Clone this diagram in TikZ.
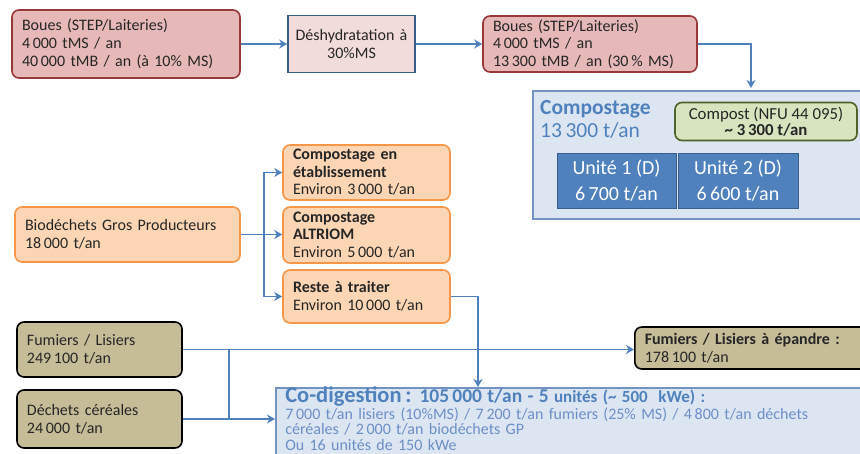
\documentclass[tikz,border=0pt]{standalone}
\usepackage{fontspec}
\setmainfont{Carlito}
\usetikzlibrary{arrows.meta}
\definecolor{TxtClr}{rgb}{0.15,0.15,0.15}
\definecolor{BoueClr}{rgb}{0.902,0.725,0.722}
\definecolor{BoueBrd}{rgb}{0.6,0.22,0.22}
\definecolor{DeshyClr}{rgb}{0.949,0.863,0.859}
\definecolor{BleuClr}{rgb}{0.31,0.506,0.741}
\definecolor{BleuBrd}{rgb}{0.22,0.365,0.541}
\definecolor{CielClr}{rgb}{0.863,0.902,0.949}
\definecolor{CielBrd}{rgb}{0.45,0.58,0.76}
\definecolor{VertClr}{rgb}{0.843,0.894,0.741}
\definecolor{VertBrd}{rgb}{0.31,0.384,0.157}
\definecolor{OrangeClr}{rgb}{0.988,0.835,0.706}
\definecolor{OrangeBrd}{rgb}{0.969,0.588,0.275}
\definecolor{OliveClr}{rgb}{0.769,0.741,0.592}
\definecolor{BleuTxt}{rgb}{0.42,0.56,0.78}

\begin{document}
\begin{tikzpicture}[x=1pt,y=-1pt,
  every node/.style={font=\fontsize{16}{18}\selectfont,text=TxtClr},
  boue/.style={draw=BoueBrd,fill=BoueClr,line width=1.6pt,rounded corners=7pt,align=left,inner xsep=10pt},
  deshy/.style={draw=BleuBrd,fill=DeshyClr,line width=1.6pt,align=center},
  bio/.style={draw=OrangeBrd,fill=OrangeClr,line width=1.6pt,rounded corners=7pt,align=left,inner xsep=10pt},
  fumier/.style={draw=black,fill=OliveClr,line width=1.6pt,rounded corners=7pt,align=left,inner xsep=10pt},
  unite/.style={draw=BleuBrd,fill=BleuClr,line width=0.8pt,align=center,text=white,minimum width=119pt,minimum height=55pt,font=\fontsize{20}{26}\selectfont},
  ciel/.style={draw=CielBrd,fill=CielClr,line width=1.6pt},
  fleche/.style={draw=BleuClr,line width=1.6pt,-{Stealth[length=8pt,width=9pt,inset=2.5pt]}},
  trait/.style={draw=BleuClr,line width=1.6pt}]
\useasboundingbox (0,0) rectangle (860,453);
\clip (0,0) rectangle (860,453);

\node[boue,minimum width=228pt,minimum height=68pt,text width=208pt] (boueA) at (126,44)
  {Boues (STEP/Laiteries)\\4\,000 tMS / an\\40\,000 tMB / an (à 10\% MS)};
\node[deshy,minimum width=127pt,minimum height=57pt,text width=119pt,inner xsep=2pt] (deshy) at (351.5,44)
  {Déshydratation à\\30\%MS};
\node[boue,minimum width=214pt,minimum height=56pt,text width=194pt,inner ysep=0.5pt,font=\fontsize{16}{17.5}\selectfont] (boueB) at (590,44)
  {Boues (STEP/Laiteries)\\4\,000 tMS / an\\13\,300 tMB / an (30\,\% MS)};

\node[ciel,anchor=north west,minimum width=360pt,minimum height=128pt] (compo) at (532,90) {};
\node[anchor=north west,align=left,text=BleuClr,inner sep=0pt,font=\fontsize{21.5}{23}\selectfont] (compoTitre) at (540,100)
  {\textbf{Compostage}\\13\,300 t/an};
\node[draw=VertBrd,fill=VertClr,line width=1.6pt,rounded corners=7pt,align=center,minimum width=182pt,minimum height=38pt,inner sep=0pt,font=\fontsize{16.8}{16.5}\selectfont] (compost) at (766,121.5)
  {Compost (NFU 44 095)\\\textbf{\textasciitilde\ 3\,300 t/an}};
\node[unite] (u1) at (616.5,180.5) {Unité 1 (D)\\6\,700 t/an};
\node[unite,minimum width=120pt] (u2) at (738,180.5) {Unité 2 (D)\\6\,600 t/an};
\coordinate (compoIn) at (751,88);

\node[bio,minimum width=225pt,minimum height=55pt,text width=205pt] (bio) at (127.5,234.5)
  {Biodéchets Gros Producteurs\\18\,000 t/an};
\node[bio,minimum width=167pt,minimum height=55pt,text width=147pt,inner ysep=0.5pt,font=\fontsize{16}{17.5}\selectfont] (etab) at (366.5,172.5)
  {\textbf{Compostage en}\\\textbf{établissement}\\Environ 3\,000 t/an};
\node[bio,minimum width=167pt,minimum height=56pt,text width=147pt,inner ysep=0.5pt,font=\fontsize{16}{17.5}\selectfont] (altriom) at (366.5,235)
  {\textbf{Compostage}\\\textbf{ALTRIOM}\\Environ 5\,000 t/an};
\node[bio,minimum width=167pt,minimum height=53pt,text width=147pt] (reste) at (366.5,296.5)
  {\textbf{Reste à traiter}\\Environ 10\,000 t/an};

\node[fumier,minimum width=165pt,minimum height=55pt,text width=145pt] (fum) at (99.5,349.5)
  {Fumiers / Lisiers\\249\,100 t/an};
\node[fumier,minimum width=165pt,minimum height=58pt,text width=145pt] (cereal) at (99.5,419)
  {Déchets céréales\\24\,000 t/an};
\node[fumier,anchor=west,minimum width=250pt,minimum height=42pt,text width=230pt,inner ysep=0.5pt] (epandre) at (634,348)
  {\textbf{Fumiers / Lisiers à épandre :}\\178\,100 t/an};

\node[ciel,anchor=north west,minimum width=610pt,text width=591pt,align=left,inner xsep=9pt,inner ysep=0pt,text height=15pt,text depth=85pt,text=BleuTxt,font=\fontsize{16}{15.5}\selectfont] (codig) at (275,387)
  {{\color{BleuClr}\bfseries\fontsize{22.5}{15.5}\selectfont Co-digestion\,:\fontsize{19.5}{15.5}\selectfont{} 105\,000 t/an - 5 \fontsize{17}{15.5}\selectfont unités (\textasciitilde{} 500~ kWe) :}\\
   7\,000 t/an lisiers (10\%MS) / 7\,200 t/an fumiers (25\% MS) / 4\,800 t/an déchets\\
   céréales / 2\,000 t/an biodéchets GP\\
   Ou 16 unités de 150 kWe};
\coordinate (codigIn) at (478,387);

\draw[fleche] (boueA.east) -- (boueA.east -| deshy.west);
\draw[fleche] (deshy.east) -- (deshy.east -| boueB.west);
\draw[fleche] (boueB.east) -| (compoIn);
\draw[trait] (bio.east) -- ++(23,0);
\draw[fleche] (bio.east) ++(23,0) |- (etab.west);
\draw[fleche] (bio.east) -- (bio.east -| altriom.west);
\draw[fleche] (bio.east) ++(23,0) |- (reste.west);
\draw[fleche] (reste.east) -| (codigIn);
\draw[fleche] (fum.east) -- (fum.east -| epandre.west);
\draw[trait] (fum.east) ++(46,0) |- (cereal.east);
\draw[fleche] (cereal.east) -- (cereal.east -| codig.west);
\end{tikzpicture}
\end{document}
